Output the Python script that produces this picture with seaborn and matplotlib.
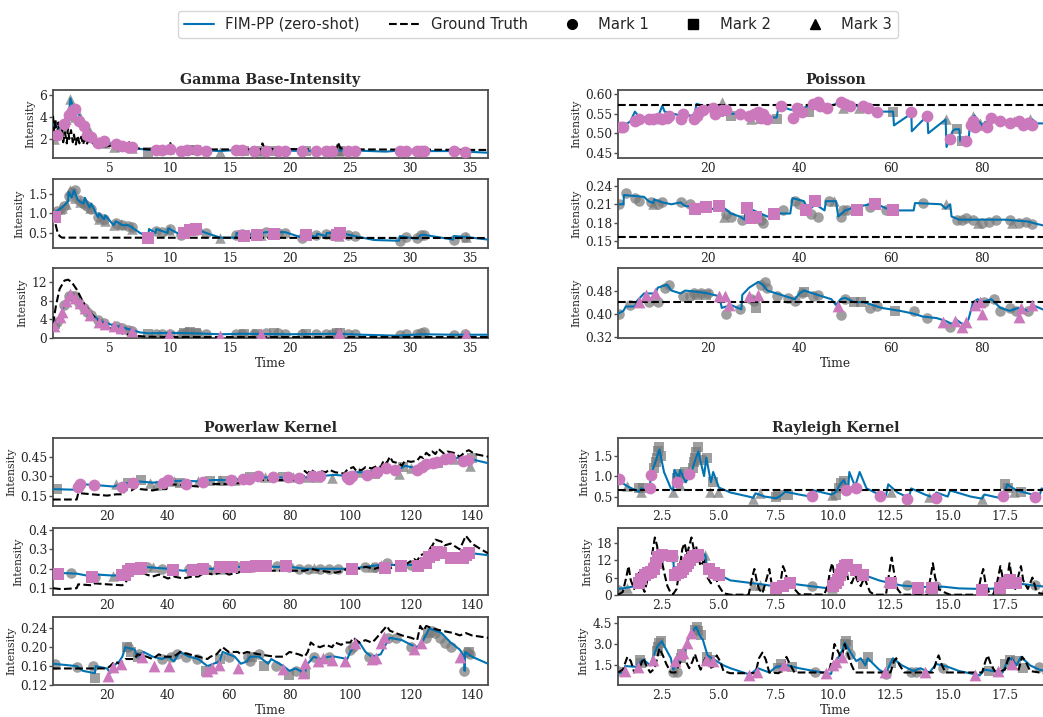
import matplotlib
matplotlib.use("Agg")
import matplotlib.pyplot as plt
from matplotlib.lines import Line2D
import numpy as np
import pandas as pd
import seaborn as sns

# ---------------------------------------------------------------- data
# Each event list: (time, intensity of the row's mark at that event, event mark)
# Gamma Base-Intensity
GAMMA_R1_EVENTS = [(0.30,2.0,3),(0.45,2.3,2),(0.55,2.4,1),(0.80,2.8,3),(1.00,3.1,3),(1.20,3.4,1),(1.35,3.8,3),(1.55,4.2,1),(1.65,5.6,3),(1.85,4.5,1),
    (2.05,4.7,1),(2.10,4.0,3),(2.40,3.6,1),(2.50,4.0,3),(2.80,3.2,1),(2.90,3.3,3),(3.10,2.4,1),(3.30,2.6,3),(3.45,2.2,1),(4.00,1.6,1),
    (4.10,1.7,3),(4.50,1.8,1),(4.60,1.6,3),(5.30,1.3,3),(5.50,1.5,1),(5.90,1.4,3),(6.00,1.4,1),(6.50,1.3,1),(6.80,1.3,1),(6.85,1.2,3),
    (8.20,0.8,2),(8.80,1.0,1),(9.30,1.0,1),(9.90,1.05,3),(10.00,1.05,1),(10.90,0.9,1),(11.20,0.95,2),(11.45,1.0,1),(11.70,1.0,2),(12.20,1.0,2),
    (12.25,1.0,1),(13.00,0.95,1),(14.20,0.85,3),(15.50,1.0,1),(16.00,1.0,1),(16.20,0.95,2),(17.00,0.95,1),(17.25,0.95,2),(17.60,0.9,3),(18.00,0.95,1),
    (18.70,0.9,2),(19.00,0.95,1),(19.60,0.95,1),(21.00,0.9,1),(21.30,0.9,2),(22.20,0.9,1),(23.00,0.95,1),(23.50,0.95,1),(23.90,0.9,2),(24.05,0.95,3),
    (24.20,0.9,2),(24.80,0.95,1),(25.40,0.95,1),(29.20,0.95,1),(29.70,0.95,1),(30.60,0.9,1),(30.90,0.9,1),(31.20,0.9,1),(33.70,0.9,1),(34.60,0.85,1),(34.65,0.85,3)]
GAMMA_R2_EVENTS = [(0.30,1.0,3),(0.45,0.9,2),(0.55,1.05,1),(0.80,1.1,3),(1.00,1.15,3),(1.20,1.2,1),(1.35,1.25,3),(1.55,1.45,1),(1.65,1.6,3),(1.85,1.55,1),
    (2.05,1.6,1),(2.10,1.4,3),(2.40,1.35,1),(2.50,1.3,3),(2.80,1.25,1),(2.90,1.3,3),(3.10,1.2,1),(3.30,1.15,3),(3.45,1.1,1),(4.00,0.9,1),
    (4.10,0.85,3),(4.50,0.85,1),(4.60,0.8,3),(5.30,0.7,3),(5.50,0.75,1),(5.90,0.72,3),(6.00,0.7,1),(6.50,0.68,1),(6.80,0.65,1),(6.85,0.6,3),
    (8.20,0.38,2),(8.80,0.55,1),(9.30,0.52,1),(9.90,0.58,3),(10.00,0.6,1),(10.90,0.45,1),(11.20,0.5,2),(11.45,0.55,1),(11.70,0.58,2),(12.20,0.6,2),
    (12.25,0.58,1),(13.00,0.5,1),(14.20,0.38,3),(15.50,0.45,1),(16.00,0.48,1),(16.20,0.42,2),(17.00,0.45,1),(17.25,0.45,2),(17.60,0.45,3),(18.00,0.52,1),
    (18.70,0.48,2),(19.00,0.5,1),(19.60,0.5,1),(21.00,0.38,1),(21.30,0.45,2),(22.20,0.45,1),(23.00,0.48,1),(23.50,0.45,1),(23.90,0.45,2),(24.05,0.42,3),
    (24.20,0.5,2),(24.80,0.45,1),(25.40,0.42,1),(29.20,0.3,1),(29.70,0.4,1),(30.60,0.36,1),(30.90,0.45,1),(31.20,0.45,1),(33.70,0.33,1),(34.60,0.4,1),(34.65,0.4,3)]
GAMMA_R3_EVENTS = [(0.30,2.5,3),(0.45,3.0,2),(0.55,3.5,1),(0.80,4.5,3),(1.00,5.5,3),(1.20,7.0,1),(1.35,8.0,3),(1.55,9.0,1),(1.65,9.5,3),(1.85,9.0,1),
    (2.05,9.0,1),(2.10,8.5,3),(2.40,7.5,1),(2.50,7.5,3),(2.80,6.5,1),(2.90,6.5,3),(3.10,5.5,1),(3.30,5.0,3),(3.45,5.0,1),(4.00,3.8,1),
    (4.10,3.5,3),(4.50,3.2,1),(4.60,3.0,3),(5.30,2.5,3),(5.50,2.5,1),(5.90,2.2,3),(6.00,2.2,1),(6.50,1.8,1),(6.80,1.6,1),(6.85,1.5,3),
    (8.20,0.9,2),(8.80,0.9,1),(9.30,0.9,1),(9.90,0.8,3),(10.00,0.9,1),(10.90,0.9,1),(11.20,1.0,2),(11.45,1.2,1),(11.70,1.2,2),(12.20,1.1,2),
    (12.25,1.0,1),(13.00,0.9,1),(14.20,0.5,3),(15.50,0.8,1),(16.00,0.9,1),(16.20,0.9,2),(17.00,0.9,1),(17.25,0.9,2),(17.60,0.8,3),(18.00,1.0,1),
    (18.70,1.0,2),(19.00,1.0,1),(19.60,0.9,1),(21.00,0.8,1),(21.30,0.8,2),(22.20,0.9,1),(23.00,0.9,1),(23.50,0.9,1),(23.90,1.0,2),(24.05,1.1,3),
    (24.20,1.0,2),(24.80,0.9,1),(25.40,0.9,1),(29.20,0.7,1),(29.70,0.8,1),(30.60,0.9,1),(30.90,1.1,1),(31.20,1.2,1),(33.70,0.7,1),(34.60,0.8,1),(34.65,0.8,3)]
GAMMA_R1_FIT = [(0.25,3.3),(0.8,3.0),(1.2,3.6),(1.6,4.5),(1.7,5.7),(2.0,4.6),(2.3,4.3),(2.5,4.1),(2.8,3.3),(3.1,3.2),(3.3,2.6),(3.6,2.4),(4.0,1.8),
    (4.5,1.9),(5.0,1.6),(5.5,1.5),(6.0,1.4),(6.8,1.3),(7.5,1.1),(8.2,1.0),(8.8,1.05),(10.0,1.05),(11.0,0.95),(12.2,1.0),(14.2,0.9),(15.5,1.0),
    (17.0,0.95),(19.6,0.95),(21.0,0.9),(24.0,0.95),(25.4,0.95),(28.0,0.85),(29.2,0.95),(31.2,0.9),(33.7,0.9),(36.5,0.75)]
GAMMA_R2_FIT = [(0.25,1.0),(0.5,1.05),(1.0,1.15),(1.5,1.3),(1.55,1.55),(1.8,1.4),(2.0,1.6),(2.3,1.35),(2.5,1.3),(2.8,1.25),(2.9,1.4),(3.3,1.15),
    (3.45,1.25),(4.0,0.9),(4.1,1.0),(4.5,0.85),(4.6,0.95),(5.3,0.7),(5.5,0.8),(6.0,0.7),(6.5,0.7),(6.8,0.65),(7.5,0.5),(8.2,0.4),(8.25,0.6),
    (8.8,0.5),(8.85,0.6),(9.8,0.5),(9.85,0.62),(10.9,0.45),(11.2,0.5),(12.2,0.6),(13.0,0.5),(14.2,0.38),(15.5,0.38),(15.55,0.5),(17.0,0.45),
    (18.0,0.52),(19.6,0.52),(21.0,0.38),(21.3,0.45),(22.2,0.4),(22.25,0.48),(23.0,0.42),(23.05,0.5),(24.2,0.5),(25.4,0.42),(27.0,0.32),(29.1,0.3),
    (29.15,0.42),(30.6,0.35),(30.9,0.45),(31.2,0.45),(33.6,0.33),(33.65,0.42),(34.6,0.4),(36.5,0.33)]
GAMMA_R3_FIT = [(0.25,2.5),(0.5,3.5),(0.8,4.0),(1.0,5.5),(1.3,8.0),(1.6,9.5),(2.0,9.0),(2.3,8.0),(2.7,7.0),(3.0,6.0),(3.5,5.0),(4.0,4.0),
    (4.5,3.3),(5.2,2.8),(5.8,2.4),(6.7,1.8),(7.5,1.2),(8.2,1.0),(10.0,1.1),(12.0,1.0),(14.2,0.8),(16.0,0.9),(20.0,0.8),(24.0,0.9),(26.0,0.7),
    (29.0,0.5),(31.0,0.8),(33.7,0.7),(36.5,0.7)]
GAMMA_R1_GT = [(0.25,4.1),(0.35,2.5),(0.45,3.8),(0.55,2.0),(0.7,3.5),(0.85,1.8),(1.0,2.9),(1.1,1.7),(1.25,2.6),(1.4,1.6),(1.5,3.0),(1.6,2.0),
    (1.75,2.8),(1.9,1.7),(2.0,2.4),(2.15,1.5),(2.3,2.3),(2.45,1.6),(2.6,2.2),(2.75,1.5),(2.9,2.0),(3.05,1.5),(3.2,1.9),(3.35,1.5),(3.5,1.8),
    (3.7,1.4),(3.9,1.7),(4.1,1.4),(4.3,1.5),(4.6,1.3),(5.0,1.4),(5.5,1.25),(6.3,1.2),(6.6,1.7),(6.8,1.3),(7.5,1.1),(8.5,1.05),(9.9,1.05),
    (10.0,1.7),(10.2,1.15),(12.0,1.05),(17.6,1.05),(17.7,1.6),(17.9,1.1),(23.9,1.05),(24.0,1.7),(24.2,1.15),(26.0,1.05),(36.5,1.0)]
GAMMA_R2_GT = [(0.25,1.0),(0.4,0.8),(0.6,0.55),(0.8,0.42),(1.0,0.38),(36.5,0.37)]
GAMMA_R3_GT = [(0.25,3.0),(0.5,7.0),(0.8,10.5),(1.2,12.3),(1.5,12.5),(1.8,12.0),(2.2,10.5),(2.7,8.0),(3.2,6.0),(3.8,4.2),(4.5,2.8),
    (5.2,1.8),(6.0,1.0),(7.0,0.5),(8.0,0.3),(10.0,0.2),(36.5,0.2)]

# Poisson
POIS_R1_EVENTS = [(1,0.515,1),(1.5,0.515,1),(4,0.53,1),(5,0.535,1),(7,0.535,1),(8,0.535,1),(9,0.54,1),(10,0.535,1),(11,0.54,1),(11.5,0.545,1),
    (14,0.535,1),(14.5,0.55,1),(17,0.535,1),(17.5,0.545,1),(18,0.555,1),(19,0.56,1),(21,0.565,1),(21.5,0.55,1),(23,0.56,1),(24,0.56,1),
    (27,0.548,1),(29,0.545,1),(30,0.55,1),(31,0.555,1),(31.5,0.54,1),(32,0.55,1),(33,0.535,1),(36,0.57,1),(38.5,0.54,1),(39.5,0.565,1),
    (40.5,0.555,1),(43,0.575,1),(44,0.58,1),(44.5,0.57,1),(46,0.565,1),(49,0.58,1),(50,0.575,1),(51,0.57,1),(54,0.57,1),(55,0.565,1),
    (57,0.555,1),(64.5,0.555,1),(68,0.545,1),(73,0.485,1),(76.5,0.48,1),(77.5,0.52,1),(78,0.53,1),(78.5,0.515,1),(81,0.515,1),(82,0.54,1),
    (84,0.53,1),(86,0.525,1),(88,0.53,1),(89,0.52,1),(90,0.525,1),(91,0.52,1),
    (22.5,0.555,2),(23,0.58,3),(25,0.545,2),(29.5,0.535,3),(31.5,0.535,2),(35,0.535,2),(42,0.555,2),(49.5,0.565,3),(53,0.565,3),(60.5,0.555,2),
    (72,0.535,3),(74.5,0.51,2),(75.5,0.48,2),(78,0.545,3),(79.5,0.525,3),(80.5,0.52,3),(87,0.53,3),(90.5,0.535,3)]
POIS_R2_EVENTS = [(17.2,0.202,2),(19.5,0.205,2),(22.5,0.207,2),(28.5,0.204,2),(29.5,0.187,2),(30.5,0.19,2),(34.5,0.195,2),(41.5,0.2,2),
    (43.5,0.215,2),(52.5,0.2,2),(56.5,0.21,2),(60.5,0.2,2),
    (0.5,0.21,1),(2,0.228,1),(4,0.22,1),(5,0.215,1),(7.5,0.213,1),(9,0.21,1),(10,0.213,1),(14,0.213,1),(16,0.21,1),(18.5,0.205,1),
    (24,0.195,1),(25,0.19,1),(27.5,0.185,1),(31,0.19,1),(31.5,0.185,1),(32,0.18,1),(36.5,0.2,1),(39,0.215,1),(40,0.21,1),(42.5,0.195,1),
    (44,0.19,1),(46.5,0.215,1),(49,0.19,1),(49.5,0.2,1),(50.5,0.2,1),(55.5,0.205,1),(59,0.2,1),(67,0.212,1),(74.5,0.185,1),(75.5,0.185,1),
    (76.5,0.188,1),(78,0.185,1),(80,0.18,1),(81.5,0.182,1),(83,0.184,1),(86,0.185,1),(88,0.18,1),(89.5,0.182,1),(91,0.178,1),
    (8,0.21,3),(23.5,0.19,3),(47.5,0.215,3),(72,0.21,3),(79,0.18,3),(86.5,0.18,3)]
POIS_R3_EVENTS = [(5,0.44,3),(6.5,0.465,3),(8.5,0.47,3),(22.5,0.46,3),(23.8,0.46,3),(24.5,0.43,3),(29,0.46,3),(31,0.465,3),(48.5,0.425,3),
    (71.5,0.37,3),(74,0.375,3),(75.5,0.355,3),(76.5,0.37,3),(78.5,0.43,3),(79.5,0.44,3),(80,0.40,3),(88,0.39,3),(88.5,0.42,3),(91,0.43,3),
    (0.5,0.4,1),(3,0.43,1),(7,0.44,1),(9,0.44,1),(10.5,0.49,1),(11.5,0.5,1),(14.5,0.46,1),(16,0.46,1),(17,0.47,1),(18.5,0.47,1),(20,0.47,1),
    (24,0.4,1),(27,0.415,1),(29.5,0.45,1),(30,0.445,1),(31.5,0.5,1),(32.5,0.51,1),(33,0.49,1),(35,0.46,1),(37.5,0.455,1),(39,0.445,1),
    (40.5,0.47,1),(43,0.46,1),(44,0.465,1),(49,0.395,1),(50,0.45,1),(55.5,0.42,1),(57,0.425,1),(65,0.41,1),(68,0.385,1),(73,0.355,1),
    (80.5,0.44,1),(82.5,0.45,1),(84,0.41,1),(86,0.42,1),(87.5,0.41,1),(90,0.41,1),
    (30.5,0.42,2),(41,0.475,2),(52,0.44,2),(53.5,0.44,2),(61,0.41,2),(17.5,0.465,2),(19.5,0.465,2)]
POIS_R1_FIT = [(0.3,0.51),(3,0.53),(4,0.555),(5,0.54),(9,0.54),(10,0.57),(10.5,0.555),(14,0.545),(17,0.545),(17.5,0.575),(20,0.565),
    (22.5,0.56),(23,0.57),(25,0.55),(30,0.545),(33,0.54),(35,0.54),(35.5,0.57),(38,0.56),(40,0.56),(43,0.575),(44,0.585),(46,0.565),
    (48,0.575),(49,0.585),(52,0.57),(55,0.565),(58,0.555),(60.5,0.555),(60.7,0.52),(64.5,0.55),(64.6,0.505),(68,0.545),(68.2,0.5),
    (72,0.535),(72.2,0.465),(73.5,0.505),(74,0.51),(75,0.51),(75.2,0.48),(77,0.48),(77.3,0.52),(78.3,0.545),(80,0.52),(82,0.54),
    (84,0.53),(86,0.525),(88,0.53),(90,0.525),(91,0.535),(92,0.525),(95.5,0.525)]
POIS_R2_FIT = [(0.3,0.21),(1.5,0.21),(1.6,0.225),(6,0.222),(7,0.215),(8,0.212),(8.2,0.218),(10,0.213),(12,0.21),(14,0.213),(15,0.207),
    (20,0.205),(22,0.2),(22.5,0.21),(25,0.195),(27,0.19),(28,0.185),(28.3,0.205),(30,0.2),(33,0.19),(34.5,0.195),(38,0.195),(38.5,0.22),
    (41,0.215),(42,0.2),(43.5,0.21),(45.5,0.2),(45.8,0.215),(48,0.215),(48.5,0.19),(50,0.2),(52,0.205),(55.5,0.21),(57,0.21),(60,0.2),
    (65,0.2),(65.3,0.212),(71,0.21),(72,0.203),(73,0.21),(73.3,0.19),(75,0.185),(80,0.185),(85,0.185),(90,0.182),(92,0.178),(95.5,0.172)]
POIS_R3_FIT = [(0.3,0.40),(1.5,0.41),(2,0.425),(4,0.425),(4.5,0.445),(6,0.47),(8.5,0.47),(9,0.49),(11,0.5),(12,0.48),(14,0.47),(15,0.48),
    (18,0.475),(20,0.47),(22.5,0.46),(23,0.42),(25,0.43),(27.3,0.415),(27.5,0.465),(29,0.49),(30,0.5),(31,0.51),(32,0.5),(33,0.48),(35,0.47),
    (37,0.46),(39,0.45),(40,0.47),(41,0.48),(43,0.47),(45,0.46),(47,0.45),(48,0.43),(49,0.45),(50,0.455),(52,0.44),(54,0.44),(56,0.43),
    (58,0.42),(62,0.41),(65,0.40),(67,0.39),(70,0.385),(72,0.375),(74,0.36),(74.3,0.38),(76,0.36),(77,0.38),(78,0.44),(79,0.45),(80,0.44),
    (82,0.45),(84,0.42),(86,0.41),(88,0.42),(90,0.41),(91,0.43),(95.5,0.40)]
POIS_R1_GT = [(0.3,0.572),(95.5,0.572)]
POIS_R2_GT = [(0.3,0.157),(95.5,0.157)]
POIS_R3_GT = [(0.3,0.44),(95.5,0.44)]

# Powerlaw Kernel
PL_R1_EVENTS = [(10.5,0.22,1),(11,0.24,1),(15.8,0.235,1),(24.8,0.22,1),(28.6,0.25,1),(38.4,0.25,1),(40,0.27,1),(46,0.24,1),(51.5,0.255,1),
    (60.7,0.27,1),(64.8,0.28,1),(66.8,0.28,1),(69.6,0.30,1),(74.7,0.29,1),(79.6,0.29,1),(83.2,0.285,1),(87.3,0.30,1),(90,0.30,1),
    (98.8,0.29,1),(99.5,0.28,1),(100.4,0.30,1),(105.4,0.31,1),(108.7,0.33,1),(111.7,0.36,1),(114.7,0.345,1),(121.9,0.35,1),(123.5,0.37,1),
    (125,0.39,1),(127.3,0.40,1),(128.4,0.41,1),(131.2,0.43,1),(132.8,0.44,1),(137.2,0.42,1),(138.7,0.425,1),
    (3.4,0.2,2),(23,0.24,3),(27,0.25,2),(31,0.27,2),(34,0.25,3),(36,0.23,3),(42,0.26,3),(44,0.25,2),(50,0.26,3),(54,0.26,2),(57,0.27,3),
    (58,0.26,2),(62,0.27,3),(67,0.29,2),(72,0.29,3),(78,0.29,2),(81,0.29,3),(86,0.29,3),(89,0.29,3),(94,0.285,3),(103,0.33,3),(108,0.32,2),
    (116,0.32,3),(117.5,0.37,2),(120,0.36,3),(129,0.4,2),(134,0.43,3),(139.5,0.38,3),(140,0.44,2)]
PL_R2_EVENTS = [(3.7,0.175,2),(15,0.16,2),(24.8,0.17,2),(26,0.17,2),(27,0.19,2),(28,0.2,2),(30,0.2,2),(31,0.205,2),(41.8,0.195,2),
    (48.3,0.195,2),(51.6,0.2,2),(57,0.21,2),(61,0.21,2),(65.8,0.21,2),(69,0.215,2),(72.4,0.215,2),(79,0.215,2),(100.4,0.2,2),(111.3,0.205,2),
    (116.8,0.215,2),(122.3,0.215,2),(125,0.23,2),(126,0.26,2),(127.5,0.27,2),(128.5,0.285,2),(130,0.28,2),(133,0.255,2),(137,0.255,2),
    (138,0.27,2),(139,0.28,2),
    (8,0.18,1),(16,0.16,1),(22,0.165,3),(33,0.21,1),(35,0.21,3),(38,0.2,1),(47,0.2,1),(53,0.2,1),(55,0.2,3),(58,0.2,3),(63,0.21,1),
    (68,0.21,1),(70,0.22,3),(76,0.215,1),(80,0.21,1),(83,0.2,1),(86,0.2,1),(88,0.205,3),(90,0.2,1),(93,0.2,1),(96,0.2,1),(105,0.21,1),
    (107,0.21,3),(108,0.21,1),(110,0.22,3),(112,0.23,1),(120,0.22,1),(124,0.24,3),(129,0.29,1)]
PL_R3_EVENTS = [(20.4,0.139,3),(22,0.158,3),(24.5,0.165,3),(31.4,0.18,3),(35.5,0.16,3),(40.4,0.16,3),(52.8,0.15,3),(54.4,0.156,3),
    (56.8,0.162,3),(63.2,0.155,3),(78,0.153,3),(84.6,0.146,3),(85,0.166,3),(89.5,0.17,3),(91,0.178,3),(94,0.172,3),(98.3,0.17,3),
    (101.4,0.21,3),(107,0.175,3),(108.6,0.178,3),(110,0.21,3),(111,0.222,3),(120.8,0.196,3),(123.3,0.21,3),(136.1,0.18,3),
    (3,0.165,1),(10,0.158,1),(15.5,0.16,1),(16,0.135,2),(26.5,0.2,2),(27,0.2,1),(28,0.19,2),(30,0.18,2),(30.5,0.185,1),(38,0.175,1),
    (41,0.18,1),(43,0.185,1),(46,0.18,1),(49.5,0.175,1),(52.5,0.15,2),(57,0.175,2),(60,0.18,1),(66.5,0.18,1),(67,0.17,1),(67.5,0.18,2),
    (70,0.185,1),(71.5,0.16,2),(75.5,0.16,1),(80,0.142,2),(82,0.15,1),(85,0.143,2),(88,0.18,1),(93,0.18,1),(100,0.195,1),(101,0.2,1),
    (106,0.18,1),(112.5,0.22,1),(115,0.22,1),(120,0.2,1),(125,0.22,1),(125.5,0.23,2),(127,0.235,1),(128,0.23,1),(129.5,0.22,1),
    (131,0.21,1),(133,0.2,1),(137.5,0.15,1),(138.5,0.19,1),(139,0.19,2),(139.5,0.185,1)]
PL_R1_FIT = [(2.2,0.2),(10,0.195),(10.5,0.24),(17,0.23),(22,0.22),(25,0.24),(30,0.26),(35,0.25),(40,0.26),(45,0.265),(50,0.26),(55,0.27),
    (60,0.27),(65,0.28),(70,0.29),(75,0.29),(80,0.29),(85,0.29),(90,0.3),(95,0.31),(99,0.3),(100,0.33),(105,0.33),(110,0.34),(113,0.36),
    (116,0.35),(118,0.38),(122,0.36),(125,0.38),(128,0.42),(133,0.44),(136,0.44),(140,0.43),(145.3,0.40)]
PL_R2_FIT = [(2.2,0.18),(10,0.175),(15,0.16),(17,0.17),(22,0.165),(25,0.17),(27,0.19),(30,0.2),(32,0.21),(40,0.2),(45,0.19),(50,0.2),
    (55,0.2),(60,0.21),(65,0.21),(70,0.22),(75,0.21),(80,0.21),(85,0.2),(90,0.2),(95,0.2),(100,0.2),(105,0.21),(110,0.22),(115,0.22),
    (120,0.22),(123,0.23),(125,0.25),(128,0.27),(130,0.28),(135,0.28),(140,0.28),(145.3,0.27)]
PL_R3_FIT = [(2.2,0.165),(10,0.16),(12,0.15),(16,0.145),(16.2,0.16),(20,0.155),(21,0.145),(22,0.16),(24,0.17),(25,0.18),(26,0.2),(29,0.195),
    (30,0.18),(32,0.19),(35,0.18),(38,0.175),(40,0.18),(42,0.17),(43,0.18),(44,0.19),(47,0.18),(50,0.175),(53,0.16),(55,0.165),(57,0.17),
    (58,0.19),(62,0.18),(64,0.165),(66,0.17),(67,0.18),(70,0.18),(73,0.165),(74,0.175),(78,0.16),(80,0.15),(82,0.155),(85,0.145),(86,0.165),
    (88,0.18),(90,0.175),(93,0.18),(95,0.18),(99,0.175),(100,0.19),(101,0.2),(103,0.21),(105,0.19),(107,0.18),(110,0.185),(112,0.21),
    (113,0.22),(117,0.215),(120,0.205),(122,0.2),(124,0.215),(126,0.24),(130,0.23),(133,0.21),(136,0.195),(137.5,0.18),(137.6,0.15),
    (137.8,0.19),(140,0.18),(145.3,0.165)]
PL_R1_GT = [(2.2,0.12),(10,0.12),(10.5,0.17),(15,0.16),(20,0.15),(23,0.16),(25.5,0.16),(25.6,0.2),(28,0.19),(30,0.22),(31,0.2),(35,0.19),
    (37,0.2),(39.5,0.2),(40,0.24),(45,0.23),(50,0.22),(52,0.24),(60,0.24),(65,0.25),(70,0.27),(75,0.27),(80,0.27),(84.5,0.27),(85,0.34),
    (86,0.32),(87,0.35),(89,0.32),(90,0.34),(92,0.33),(93,0.35),(95,0.33),(98,0.32),(99,0.35),(100,0.36),(101,0.37),(102,0.34),(104,0.35),
    (105,0.37),(107,0.36),(109,0.38),(110,0.37),(111,0.42),(112,0.40),(113,0.45),(114,0.41),(116,0.40),(117,0.38),(118,0.42),(120,0.41),
    (122,0.42),(123,0.45),(124,0.44),(125,0.48),(126,0.46),(127,0.49),(128,0.47),(129,0.51),(131,0.47),(132,0.49),(134,0.48),(136,0.45),
    (138,0.49),(139,0.5),(141,0.47),(145.3,0.45)]
PL_R2_GT = [(2.2,0.1),(5,0.095),(10,0.1),(10.5,0.12),(15,0.115),(16,0.125),(20,0.12),(25,0.115),(26,0.13),(27,0.15),(28,0.17),(30,0.18),
    (31,0.19),(33,0.17),(35,0.16),(37,0.17),(40,0.15),(42,0.16),(45,0.15),(48,0.16),(50,0.16),(52,0.18),(55,0.17),(57,0.18),(58,0.19),
    (60,0.17),(63,0.18),(65,0.19),(67,0.2),(70,0.19),(75,0.19),(80,0.19),(85,0.19),(87,0.2),(90,0.19),(95,0.18),(98,0.19),(100,0.22),
    (103,0.2),(105,0.21),(108,0.2),(110,0.21),(113,0.2),(115,0.22),(117,0.21),(119,0.23),(121,0.25),(122,0.24),(123,0.27),(125,0.28),
    (127,0.32),(128,0.35),(130,0.34),(131,0.32),(133,0.33),(135,0.31),(136,0.3),(138,0.37),(140,0.33),(143,0.3),(145.3,0.28)]
PL_R3_GT = [(2.2,0.155),(20,0.155),(21,0.16),(22.5,0.17),(24,0.165),(26,0.175),(29,0.175),(30,0.185),(33,0.18),(35,0.175),(37,0.185),
    (39,0.18),(42,0.18),(44,0.19),(47,0.185),(50,0.18),(53,0.175),(54,0.18),(56,0.185),(58,0.2),(60,0.19),(63,0.19),(64,0.185),(66,0.19),
    (70,0.185),(75,0.18),(78,0.18),(80,0.19),(83,0.185),(85,0.18),(86,0.19),(87,0.21),(88,0.205),(90,0.2),(92,0.205),(94,0.2),(95,0.21),
    (97,0.205),(98,0.21),(100,0.21),(101,0.22),(103,0.21),(105,0.215),(107,0.21),(108,0.215),(110,0.23),(112,0.245),(113,0.235),
    (117,0.225),(120,0.22),(122,0.215),(123,0.245),(124,0.235),(125,0.245),(127,0.24),(130,0.235),(134,0.23),(136,0.225),(138,0.23),
    (140,0.225),(145.3,0.22)]

# Rayleigh Kernel
RAY_R1_EVENTS = [(0.65,0.92,1),(2.0,0.7,1),(2.05,1.02,1),(3.18,0.85,1),(3.7,1.06,1),(9.05,0.52,1),(10.55,0.67,1),(11.0,0.72,1),
    (12.05,0.52,1),(13.2,0.45,1),(14.5,0.47,1),(17.4,0.52,1),(18.8,0.49,1),
    (1.0,0.75,3),(1.5,0.7,2),(1.6,0.62,3),(1.7,0.72,2),(2.15,1.2,2),(2.25,1.35,2),(2.3,1.45,2),(2.35,1.62,2),(2.4,1.7,2),(2.45,1.5,2),
    (3.0,0.62,3),(3.15,0.95,2),(3.25,1.05,2),(3.3,0.78,3),(3.4,0.95,2),(3.5,1.1,2),(3.85,1.2,2),(3.9,1.35,2),(3.95,1.45,2),(4.0,1.6,2),
    (4.1,1.7,2),(4.2,1.4,2),(4.5,1.45,2),(4.6,0.62,3),(4.75,0.85,2),(4.95,0.6,3),(6.5,0.45,3),(6.8,0.58,3),(7.5,0.5,2),(7.6,0.55,2),
    (8.0,0.55,2),(9.95,0.55,3),(10.1,0.55,2),(10.25,0.7,2),(10.35,0.82,2),(10.45,0.88,2),(12.5,0.62,3),(14.2,0.5,3),(16.5,0.45,3),
    (17.5,0.8,2),(17.65,0.7,2),(17.9,0.62,3),(18.2,0.6,2)]
RAY_R2_EVENTS = [(1.5,4,2),(1.6,5.5,2),(1.75,7,2),(1.9,7.5,2),(2.05,8,2),(2.15,9,2),(2.25,11,2),(2.35,13,2),(2.5,14,2),(2.95,13.4,2),
    (3.1,7,2),(3.2,7.5,2),(3.35,8,2),(3.45,9,2),(3.55,10,2),(3.65,11,2),(3.75,12,2),(3.85,13,2),(3.95,13.5,2),(4.1,14,2),(4.55,9,2),
    (4.8,7.5,2),(5.0,7,2),(7.5,2.5,2),(7.8,3.2,2),(8.1,4,2),(10.0,3,2),(10.1,4,2),(10.2,5,2),(10.3,7,2),(10.4,8.5,2),(10.5,10,2),
    (10.6,10.5,2),(11.0,8.5,2),(11.3,7,2),(12.5,4,2),(13.7,2.5,2),(14.3,2.5,2),(16.5,1.5,2),(17.3,2.2,2),(17.5,4,2),(17.7,5,2),(18.0,4,2),
    (0.6,1.8,1),(1.0,2.5,3),(3.0,13,1),(4.4,14,3),(6.5,3.5,3),(6.8,3.3,3),(9.05,3,1),(9.95,2.5,3),(12.4,4.5,3),(13.2,3.5,1),(14.2,2.8,3),
    (14.5,3.0,1),(16.4,1.5,3),(17.2,2,1),(18.8,3.5,1),(19.3,2.8,3)]
RAY_R3_EVENTS = [(0.9,1.1,3),(1.48,1.4,3),(2.13,1.9,3),(3.08,1.8,3),(3.3,2.3,3),(3.45,2.4,3),(3.6,3.1,3),(3.8,3.8,3),(4.44,1.9,3),
    (4.76,1.8,3),(6.33,0.85,3),(6.66,1.05,3),(7.85,1.5,3),(9.7,0.95,3),(10.0,1.5,3),(10.1,1.75,3),(10.4,2.1,3),(12.25,1.05,3),
    (14.0,1.05,3),(16.2,0.85,3),(17.2,1.1,3),(17.8,1.6,3),
    (0.6,1.1,1),(1.55,1.9,2),(1.6,1.7,2),(2.3,2.5,2),(2.35,2.8,2),(2.4,3.1,2),(2.45,3.2,2),(3.0,1.0,1),(3.15,1.0,1),(3.35,2.0,2),
    (3.4,2.3,2),(3.95,4.0,2),(4.05,4.2,2),(4.1,3.9,2),(4.2,3.6,2),(4.5,2.1,2),(4.6,1.9,2),(7.6,1.3,2),(7.7,1.6,2),(8.2,1.4,2),(9.2,1.0,1),
    (10.5,3.0,2),(10.55,3.2,2),(10.65,2.9,2),(10.75,2.3,1),(11.3,1.6,2),(11.5,2.1,2),(12.3,0.9,1),(12.5,1.7,2),(13.4,1.0,1),(13.6,1.0,1),
    (14.8,1.3,1),(16.8,1.1,2),(17.5,1.6,2),(17.7,1.9,2),(18.0,1.8,2),(18.3,1.3,2),(19.0,1.4,1)]
RAY_R1_FIT = [(0.6,0.9),(1.0,0.75),(1.5,0.62),(1.6,0.7),(2.0,0.62),(2.0,1.0),(2.2,1.3),(2.4,1.65),(2.6,1.1),(2.9,0.7),(3.0,0.65),(3.05,1.15),
    (3.25,0.95),(3.3,1.15),(3.55,0.85),(3.8,1.1),(4.0,1.45),(4.1,1.6),(4.35,1.0),(4.45,1.45),(4.65,0.85),(4.75,1.1),(5.0,0.72),(5.5,0.6),
    (6.3,0.5),(6.5,0.47),(6.6,0.58),(7.0,0.5),(7.5,0.46),(7.7,0.52),(7.9,0.62),(8.5,0.55),(9.0,0.5),(9.15,0.65),(9.9,0.55),(10.1,0.6),
    (10.3,0.8),(10.45,0.9),(10.65,0.7),(10.7,1.1),(10.95,0.75),(11.15,1.1),(11.45,0.7),(12.0,0.55),(12.3,0.52),(12.4,0.8),(12.8,0.6),
    (13.3,0.47),(13.4,0.7),(14.0,0.55),(14.4,0.47),(14.5,0.6),(15.0,0.5),(15.1,0.65),(16.0,0.5),(16.5,0.45),(16.6,0.55),(17.4,0.45),
    (17.6,0.8),(18.0,0.65),(18.5,0.58),(19.0,0.5),(19.1,0.7),(19.6,0.55)]
RAY_R2_FIT = [(0.6,2.0),(1.0,2.5),(1.4,3.0),(1.5,4.0),(1.7,6.5),(2.0,7.5),(2.3,11),(2.5,14),(2.95,13.5),(3.0,13),(3.05,7),(3.3,7.8),
    (3.6,10),(3.9,13),(4.1,14),(4.4,14),(4.5,9),(4.8,7.5),(5.0,7),(5.5,5),(6.5,4),(7.0,3.5),(7.5,2.8),(7.8,3.2),(8.1,4),(8.5,3.5),(9.0,3),
    (9.8,2.2),(10.0,3),(10.3,7),(10.6,10.5),(11.0,8.5),(11.3,7),(12.0,5),(12.5,4),(13.0,3.2),(13.7,2.8),(14.3,2.6),(14.8,2.8),(15.5,2.2),
    (16.5,2.0),(17.3,2.2),(17.5,4),(17.7,5),(18.0,4),(18.8,3.2),(19.6,2.5)]
RAY_R3_FIT = [(0.6,1.0),(0.85,0.95),(0.9,1.45),(1.4,1.4),(1.5,1.65),(1.7,1.9),(2.0,1.5),(2.1,2.0),(2.3,2.8),(2.5,3.2),(2.9,2.0),(3.0,1.2),
    (3.1,1.5),(3.3,2.0),(3.5,2.5),(3.7,3.5),(3.9,4.0),(4.0,4.2),(4.2,3.5),(4.3,3.3),(4.5,2.2),(4.8,1.9),(5.2,1.5),(5.5,1.3),(6.35,0.85),
    (6.7,1.3),(7.2,1.0),(7.5,1.4),(8.0,1.5),(8.5,1.3),(9.5,1.0),(9.9,0.9),(10.0,1.5),(10.2,2.0),(10.4,2.6),(10.5,3.1),(10.8,2.3),(11.0,1.8),
    (11.2,2.0),(11.4,1.5),(11.5,2.0),(12.0,1.2),(12.3,0.9),(12.4,1.3),(12.6,2.0),(13.0,1.5),(13.5,1.1),(13.8,1.3),(14.2,1.0),(14.5,1.6),
    (15.0,1.4),(15.5,1.1),(16.4,0.8),(16.6,1.2),(17.0,1.1),(17.4,1.0),(17.6,1.8),(17.8,2.0),(18.0,1.5),(18.2,2.1),(18.6,1.5),(19.0,1.2),(19.6,1.0)]
RAY_R1_GT = [(0.6,0.66),(19.6,0.66)]
RAY_R2_GT = [(0.6,0),(0.8,1),(0.95,6),(1.05,10),(1.15,5),(1.3,2),(1.45,7),(1.55,8),(1.65,3),(1.75,1),(1.9,6),(2.0,10),(2.1,15),(2.2,20),
    (2.3,17),(2.4,10),(2.5,12),(2.6,8),(2.75,3),(2.9,0.5),(3.0,0.2),(3.15,2),(3.3,10),(3.4,16),(3.5,18),(3.6,14),(3.7,17),(3.8,20),(3.9,16),
    (4.0,17),(4.1,13),(4.2,10),(4.35,12),(4.5,6),(4.65,4),(4.8,6),(4.9,5),(5.0,3),(5.2,0.5),(5.5,0),(6.3,0),(6.45,6),(6.55,9),(6.65,5),
    (6.75,2),(6.9,0.5),(7.1,6),(7.2,9),(7.3,4),(7.45,0.5),(7.65,2),(7.8,10),(7.9,8),(8.05,3),(8.2,6),(8.3,2),(8.5,0.2),(9.6,0),(9.75,3),
    (9.85,8),(9.95,11),(10.05,7),(10.15,9),(10.25,11),(10.35,6),(10.45,9),(10.55,10),(10.65,5),(10.8,4),(10.95,7),(11.05,5),(11.2,3),
    (11.35,6),(11.45,4),(11.6,1),(11.8,0),(12.3,0),(12.45,8),(12.55,13),(12.65,8),(12.8,2),(13.0,0),(14.1,0),(14.25,6),(14.35,11),(14.45,6),
    (14.6,2),(14.8,1),(15.1,0),(16.3,0),(16.45,6),(16.55,9),(16.65,4),(16.8,1),(17.0,0.3),(17.15,4),(17.3,10),(17.4,6),(17.55,3),(17.7,11),
    (17.8,6),(17.95,2),(18.1,7),(18.2,10),(18.3,5),(18.5,2),(18.6,4),(18.7,6),(18.85,2),(19.0,0.5),(19.6,0)]
RAY_R3_GT = [(0.6,1.0),(0.8,1.2),(1.0,2.1),(1.15,1.8),(1.3,1.0),(1.5,1.2),(1.7,2.0),(1.85,1.4),(2.0,1.0),(2.2,1.3),(2.4,2.7),(2.55,2.2),
    (2.7,1.6),(2.9,1.0),(3.1,1.0),(3.25,1.5),(3.45,2.2),(3.55,1.8),(3.7,1.3),(3.85,1.8),(3.95,2.3),(4.05,1.8),(4.2,1.2),(4.4,2.0),(4.55,1.8),
    (4.7,1.2),(4.9,2.2),(5.05,1.8),(5.2,1.1),(5.5,0.95),(6.6,0.95),(6.75,2.0),(6.9,2.4),(7.05,1.9),(7.2,1.0),(7.6,0.95),(7.8,1.2),(7.95,2.1),
    (8.1,1.6),(8.3,1.0),(9.8,1.0),(9.95,2.0),(10.05,3.0),(10.2,2.5),(10.35,2.0),(10.5,3.0),(10.65,2.2),(10.8,1.5),(10.95,1.0),(11.5,1.0),
    (12.5,1.0),(12.65,1.8),(12.75,2.0),(12.9,1.5),(13.1,1.0),(14.35,1.0),(14.5,1.8),(14.6,2.2),(14.75,1.5),(14.9,1.0),(16.5,1.0),(16.65,1.8),
    (16.75,2.2),(16.9,1.5),(17.1,1.0),(17.5,1.2),(17.65,2.0),(17.8,2.0),(17.95,1.3),(18.1,1.2),(18.25,2.1),(18.4,1.8),(18.6,1.1),(19.2,0.95),(19.6,0.95)]

TITLES = ["Gamma Base-Intensity", "Poisson", "Powerlaw Kernel", "Rayleigh Kernel"]
XTICKS = [[5, 10, 15, 20, 25, 30, 35], [20, 40, 60, 80], [20, 40, 60, 80, 100, 120, 140],
          [2.5, 5.0, 7.5, 10.0, 12.5, 15.0, 17.5]]
XTICK_FMT = ["{:g}", "{:g}", "{:g}", "{:.1f}"]
XLIMS = [(0.25, 36.5), (0.3, 95.5), (2.2, 145.3), (0.59, 19.6)]
YLIMS = [[(0.27, 6.45), (0.115, 1.88), (0, 15)],
         [(0.437, 0.61), (0.139, 0.251), (0.316, 0.558)],
         [(0.07, 0.594), (0.065, 0.41), (0.121, 0.264)],
         [(0.27, 1.93), (-0.1, 23.3), (0.12, 4.9)]]
YTICKS = [[[2, 4, 6], [0.5, 1.0, 1.5], [0, 4, 8, 12]],
          [[0.45, 0.50, 0.55, 0.60], [0.15, 0.18, 0.21, 0.24], [0.32, 0.40, 0.48]],
          [[0.15, 0.30, 0.45], [0.1, 0.2, 0.3, 0.4], [0.12, 0.16, 0.20, 0.24]],
          [[0.5, 1.0, 1.5], [0, 6, 12, 18], [1.5, 3.0, 4.5]]]
YTICK_FMT = [["{:g}", "{:.1f}", "{:g}"], ["{:.2f}", "{:.2f}", "{:.2f}"],
             ["{:.2f}", "{:.1f}", "{:.2f}"], ["{:.1f}", "{:g}", "{:.1f}"]]
FITS = [[GAMMA_R1_FIT, GAMMA_R2_FIT, GAMMA_R3_FIT], [POIS_R1_FIT, POIS_R2_FIT, POIS_R3_FIT],
        [PL_R1_FIT, PL_R2_FIT, PL_R3_FIT], [RAY_R1_FIT, RAY_R2_FIT, RAY_R3_FIT]]
GTS = [[GAMMA_R1_GT, GAMMA_R2_GT, GAMMA_R3_GT], [POIS_R1_GT, POIS_R2_GT, POIS_R3_GT],
       [PL_R1_GT, PL_R2_GT, PL_R3_GT], [RAY_R1_GT, RAY_R2_GT, RAY_R3_GT]]
EVENTS = [[GAMMA_R1_EVENTS, GAMMA_R2_EVENTS, GAMMA_R3_EVENTS], [POIS_R1_EVENTS, POIS_R2_EVENTS, POIS_R3_EVENTS],
          [PL_R1_EVENTS, PL_R2_EVENTS, PL_R3_EVENTS], [RAY_R1_EVENTS, RAY_R2_EVENTS, RAY_R3_EVENTS]]

# ---------------------------------------------------------------- style
BLUE = "#0173b2"
PINK = "#cc78bc"
GRAY = "#7a7a7a"
MARKERS = {1: "o", 2: "s", 3: "^"}

sns.set_theme(style="white")
plt.rcParams["font.family"] = ["DejaVu Serif"]
plt.rcParams["axes.edgecolor"] = "0.3"
plt.rcParams["axes.linewidth"] = 1.3

W, H = 1043, 717
fig = plt.figure(figsize=(W / 100, H / 100), dpi=100)

COLS = [(53, 488), (618, 1053), (53, 488), (618, 1053)]
ROWS_TOP = [(90, 158), (179, 248), (268, 338)]
ROWS_BOT = [(438, 506), (528, 595), (617, 685)]
PANEL_ROWS = [ROWS_TOP, ROWS_TOP, ROWS_BOT, ROWS_BOT]


def add_ax(x0, x1, y0, y1):
    return fig.add_axes([x0 / W, 1 - y1 / H, (x1 - x0) / W, (y1 - y0) / H])


for p in range(4):
    x0, x1 = COLS[p]
    for r in range(3):
        y0, y1 = PANEL_ROWS[p][r]
        ax = add_ax(x0, x1, y0, y1)
        k = r + 1
        ev = pd.DataFrame(EVENTS[p][r], columns=["t", "y", "m"])
        fit = pd.DataFrame(FITS[p][r], columns=["t", "y"])
        gt = pd.DataFrame(GTS[p][r], columns=["t", "y"])
        # events of the other marks (gray)
        for m, mk in MARKERS.items():
            if m == k:
                continue
            sub = ev[ev["m"] == m]
            if len(sub):
                sns.scatterplot(data=sub, x="t", y="y", marker=mk, color=GRAY, s=58, alpha=0.72,
                                linewidth=0, ax=ax, zorder=2, legend=False)
        sns.lineplot(data=fit, x="t", y="y", color=BLUE, lw=1.5, sort=False, estimator=None,
                     errorbar=None, ax=ax, zorder=3, legend=False)
        sns.lineplot(data=gt, x="t", y="y", color="black", lw=1.5, ls="--", sort=False,
                     estimator=None, errorbar=None, ax=ax, zorder=3, legend=False)
        sub = ev[ev["m"] == k]
        sns.scatterplot(data=sub, x="t", y="y", marker=MARKERS[k], color=PINK, s=72, alpha=1.0,
                        linewidth=0, ax=ax, zorder=4, legend=False)

        ax.set_xlim(*XLIMS[p])
        ax.set_ylim(*YLIMS[p][r])
        ax.set_xticks(XTICKS[p], [XTICK_FMT[p].format(v) for v in XTICKS[p]])
        ax.set_yticks(YTICKS[p][r], [YTICK_FMT[p][r].format(v) for v in YTICKS[p][r]])
        ax.tick_params(axis="x", bottom=True, length=0, pad=3, labelsize=8.8)
        ax.tick_params(axis="y", left=True, length=3, width=1, pad=1, labelsize=8.8, color="0.3")
        ax.set_ylabel("Intensity", fontsize=7.8, labelpad=3)
        if r == 2:
            ax.set_xlabel("Time", fontsize=8.8, labelpad=1)
        else:
            ax.set_xlabel("")
        if r == 0:
            ax.set_title(TITLES[p], fontsize=10.2, fontweight="bold", pad=4)
        if p in (1, 3):
            ax.spines["right"].set_visible(False)

handles = [
    Line2D([], [], color=BLUE, lw=1.5, label="FIM-PP (zero-shot)"),
    Line2D([], [], color="black", lw=1.5, ls="--", label="Ground Truth"),
    Line2D([], [], color="black", marker="o", ls="", markersize=7, label="Mark 1"),
    Line2D([], [], color="black", marker="s", ls="", markersize=7, label="Mark 2"),
    Line2D([], [], color="black", marker="^", ls="", markersize=7, label="Mark 3"),
]
fig.legend(handles=handles, loc="upper center", bbox_to_anchor=(0.516, 0.995), ncol=5,
           prop={"family": "DejaVu Sans", "size": 10.6}, frameon=True, borderpad=0.4,
           columnspacing=2.0, handletextpad=0.8)

fig.savefig("out.png", dpi=100)
